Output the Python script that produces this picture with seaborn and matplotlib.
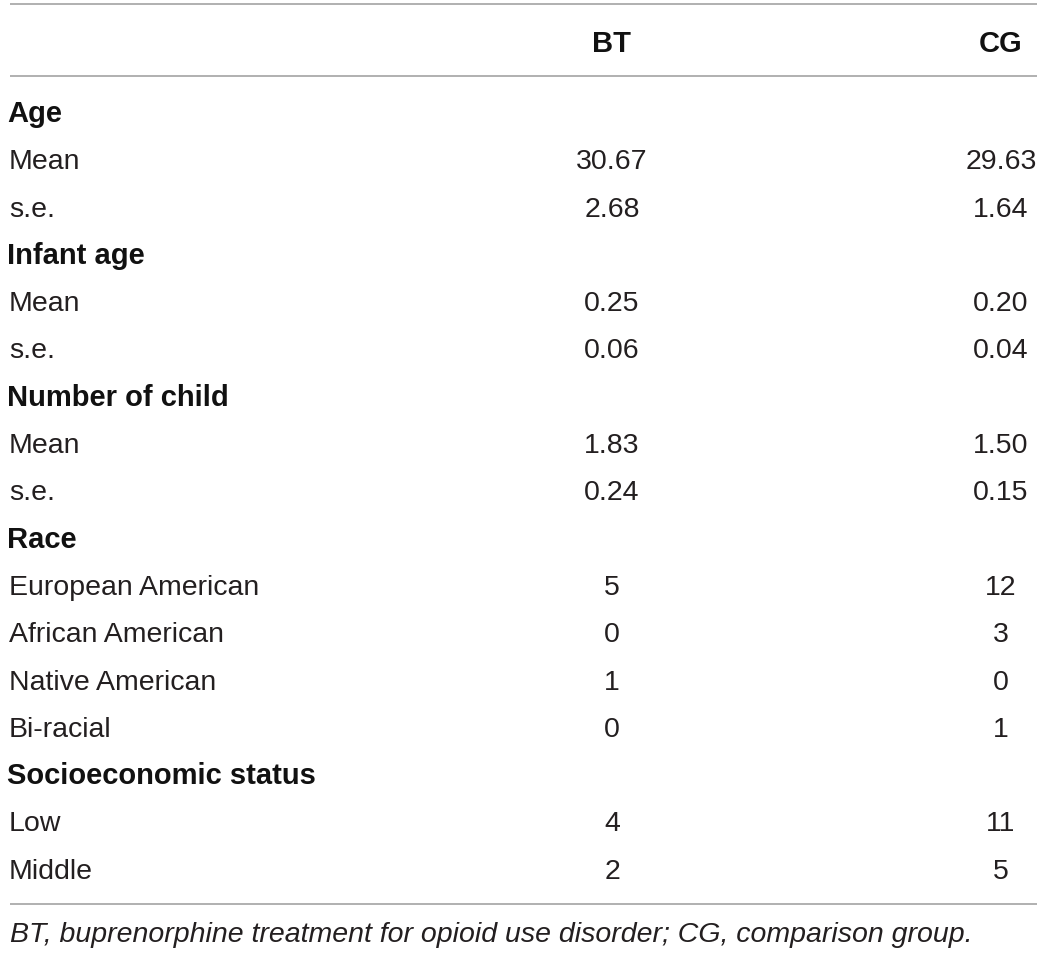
import matplotlib
matplotlib.use("Agg")
import matplotlib.pyplot as plt
import seaborn as sns

# table content
col_headers = ["BT", "CG"]
row_labels = ["Age", "Mean", "s.e.",
              "Infant age", "Mean", "s.e.",
              "Number of child", "Mean", "s.e.",
              "Race", "European American", "African American", "Native American", "Bi-racial",
              "Socioeconomic status", "Low", "Middle"]
bt_values = ["", "30.67", "2.68", "", "0.25", "0.06", "", "1.83", "0.24",
             "", "5", "0", "1", "0", "", "4", "2"]
cg_values = ["", "29.63", "1.64", "", "0.20", "0.04", "", "1.50", "0.15",
             "", "12", "3", "0", "1", "", "11", "5"]
footnote = "BT, buprenorphine treatment for opioid use disorder; CG, comparison group."


def plot():
    sns.set_theme(style="white")
    plt.rcParams['font.family'] = ['Liberation Sans', 'DejaVu Sans']

    W, H = 1044, 954
    fig = plt.figure(figsize=(W / 100, H / 100), dpi=100)
    ax = fig.add_axes([0, 0, 1, 1])
    ax.set_xlim(0, W)
    ax.set_ylim(H, 0)
    ax.axis("off")

    text_color = "#231f20"
    rule_color = "#a3a3a3"
    col_x = [612, 1001]
    row0, step = 122, 47.3

    # rules
    ax.hlines([5, 77, 905], 10, 1037, color=rule_color, linewidth=1.2)

    # header
    for x, h in zip(col_x, col_headers):
        ax.text(x, 52, h, ha="center", va="baseline", fontsize=21,
                fontweight="bold", color="#111111")

    # rows
    for i, (lab, bt, cg) in enumerate(zip(row_labels, bt_values, cg_values)):
        y = row0 + i * step
        is_group = bt == "" and cg == ""
        if is_group:
            ax.text(7, y, lab, ha="left", va="baseline", fontsize=21,
                    fontweight="bold", color="#111111")
        else:
            ax.text(9, y, lab, ha="left", va="baseline", fontsize=20.5,
                    color=text_color)
            for x, v in zip(col_x, [bt, cg]):
                ax.text(x, y, v, ha="center", va="baseline", fontsize=20.5,
                        color=text_color)

    ax.text(10, 942, footnote, ha="left", va="baseline", fontsize=20.5,
            fontstyle="italic", color=text_color)

    plt.savefig("out.png", dpi=100)


if __name__ == '__main__':
    plot()
